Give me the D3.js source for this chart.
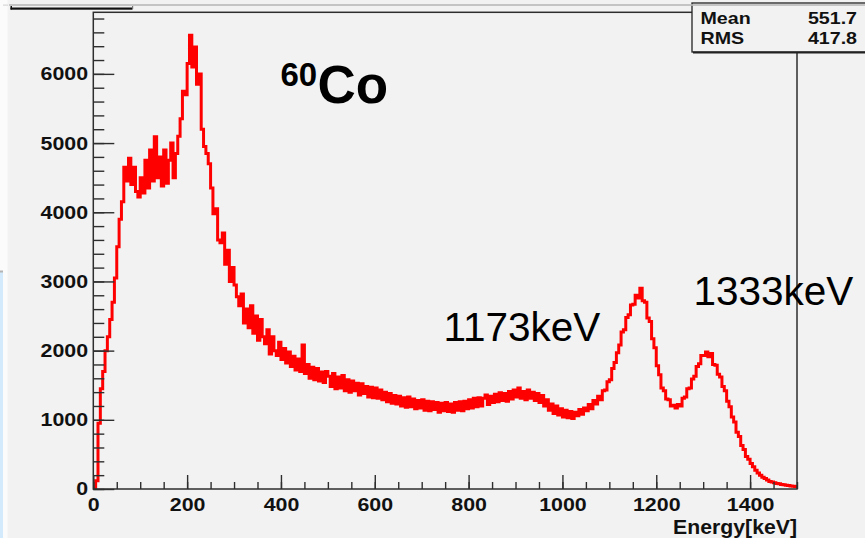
<!DOCTYPE html>
<html>
<head>
<meta charset="utf-8">
<script src="https://cdn.jsdelivr.net/npm/d3@7"></script>
<style>
  html, body { margin: 0; padding: 0; background: #f2f2f2; }
  svg { display: block; }
</style>
</head>
<body>
<svg id="chart" width="865" height="538"></svg>
<script>
// 60Co gamma spectrum, 5 keV bins from 0 to 1500 keV (counts per bin)
const binWidth = 5;
const counts = [
  0, 120, 950, 1450, 1700, 2000, 2200, 2450, 2700, 3050,          // 0-50
  3500, 3900, 4150, 4650, 4450, 4780, 4400, 4650, 4300, 4220,     // 50-100
  4500, 4280, 4750, 4350, 4900, 4450, 5090, 4500, 4800, 4380,     // 100-150
  4900, 4420, 4750, 5000, 4500, 4850, 5100, 5350, 5750, 5700,     // 150-200
  6150, 6560, 6100, 6390, 5850, 6000, 5200, 4950, 4850, 4700,     // 200-250
  4350, 3980, 4050, 3600, 3560, 3700, 3250, 3450, 3000, 3200,     // 250-300
  2950, 2780, 2650, 2820, 2400, 2600, 2330, 2650, 2250, 2500,     // 300-350
  2150, 2450, 2200, 2100, 2300, 1950, 2200, 2000, 1930, 2120,     // 350-400
  1870, 2030, 1820, 1980, 1770, 1920, 1720, 1880, 1700, 2080,     // 400-450
  1670, 1800, 1600, 1760, 1580, 1740, 1560, 1690, 1540, 1700,     // 450-500
  1630, 1480, 1670, 1450, 1620, 1460, 1640, 1420, 1580, 1400,     // 500-550
  1560, 1420, 1530, 1360, 1520, 1380, 1480, 1330, 1470, 1320,     // 550-600
  1460, 1310, 1430, 1290, 1400, 1260, 1380, 1240, 1350, 1230,     // 600-650
  1340, 1200, 1320, 1180, 1330, 1190, 1300, 1160, 1280, 1170,     // 650-700
  1290, 1140, 1270, 1130, 1260, 1150, 1250, 1110, 1240, 1130,     // 700-750
  1250, 1120, 1230, 1110, 1250, 1140, 1260, 1130, 1270, 1160,     // 750-800
  1290, 1170, 1310, 1190, 1320, 1200, 1310, 1360, 1220, 1340,     // 800-850
  1250, 1370, 1260, 1390, 1280, 1380, 1270, 1410, 1300, 1430,     // 850-900
  1330, 1460, 1310, 1410, 1290, 1430, 1310, 1400, 1280, 1380,     // 900-950
  1250, 1350, 1200, 1290, 1140, 1230, 1090, 1200, 1070, 1160,     // 950-1000
  1040, 1140, 1030, 1120, 1020, 1110, 1060, 1150, 1080, 1170,     // 1000-1050
  1130, 1220, 1160, 1280, 1230, 1340, 1290, 1420, 1430, 1550,     // 1050-1100
  1580, 1740, 1830, 1970, 2080, 2270, 2300, 2480, 2520, 2660,     // 1100-1150
  2670, 2800, 2760, 2900, 2720, 2700, 2470, 2420, 2170, 2040,     // 1150-1200
  1780, 1650, 1460, 1420, 1300, 1290, 1200, 1210, 1170, 1220,     // 1200-1250
  1200, 1310, 1330, 1450, 1460, 1590, 1630, 1770, 1810, 1930,     // 1250-1300
  1930, 1980, 1910, 1960, 1800, 1790, 1660, 1620, 1480, 1420,     // 1300-1350
  1270, 1190, 1040, 970, 820, 760, 630, 570, 470, 430,            // 1350-1400
  370, 320, 270, 230, 200, 170, 150, 130, 110, 100,               // 1400-1450
  90, 80, 75, 65, 60, 55, 50, 45, 40, 35                          // 1450-1500
];
const xTickValues = [0, 200, 400, 600, 800, 1000, 1200, 1400];
const yTickValues = [0, 1000, 2000, 3000, 4000, 5000, 6000];
const statNames = ["Mean", "RMS"];
const statValues = ["551.7", "417.8"];
const peakLabels = [
  { text: "1173keV", x: 443.5, y: 341 },
  { text: "1333keV", x: 693.5, y: 305 }
];
const xTitle = "Energy[keV]";

const svg = d3.select("#chart");
const W = 865, H = 538;
const frame = { left: 93.3, right: 797, top: 12.3, bottom: 489 };

const x = d3.scaleLinear().domain([0, 1500]).range([frame.left, frame.right]);
const y = d3.scaleLinear().domain([0, 6890]).range([frame.bottom, frame.top]);

const fontFamily = "'Liberation Sans', Arial, Helvetica, sans-serif";
const axisColor = "#2e2e2e";

// page background and window edge
svg.append("rect").attr("width", W).attr("height", H).attr("fill", "#f2f2f2");
svg.append("rect").attr("x", 0).attr("y", 0).attr("width", 7.5).attr("height", H).attr("fill", "#fbfbfb");
svg.append("rect").attr("x", 0).attr("y", 272).attr("width", 3).attr("height", H - 272).attr("fill", "#d2eafb");
svg.append("rect").attr("x", 0).attr("y", 270.5).attr("width", 3).attr("height", 2).attr("fill", "#b4b4b4");

// histogram (step line)
const pts = counts.map((c, i) => [i * binWidth, c]);
pts.push([counts.length * binWidth, counts[counts.length - 1]]);

svg.append("clipPath").attr("id", "plotClip")
  .append("rect")
  .attr("x", frame.left).attr("y", frame.top)
  .attr("width", frame.right - frame.left).attr("height", frame.bottom - frame.top);

const line = d3.line()
  .x(d => x(d[0]))
  .y(d => y(d[1]))
  .curve(d3.curveStepAfter);

svg.append("path")
  .attr("clip-path", "url(#plotClip)")
  .attr("d", line(pts))
  .attr("fill", "none")
  .attr("stroke", "#ff0000")
  .attr("stroke-width", 3)
  .attr("stroke-linejoin", "miter");

// frame
svg.append("rect")
  .attr("x", frame.left).attr("y", frame.top)
  .attr("width", frame.right - frame.left).attr("height", frame.bottom - frame.top)
  .attr("fill", "none").attr("stroke", axisColor).attr("stroke-width", 1.5);

// bold, slightly widened label text
function styleLabels(sel, size, sx) {
  sel.attr("fill", "#111")
    .attr("transform", `scale(${sx},1)`)
    .style("font-family", fontFamily)
    .style("font-weight", "bold")
    .style("font-size", size + "px");
}

// x axis: minor ticks every 50 keV, major every 200 keV
svg.append("g")
  .attr("transform", `translate(0,${frame.bottom})`)
  .call(d3.axisBottom(x).tickValues(d3.range(0, 1501, 50)).tickSize(-7).tickFormat(""))
  .call(g => g.select(".domain").remove())
  .call(g => g.selectAll("line").attr("stroke", axisColor).attr("stroke-width", 1.4));

svg.append("g")
  .attr("transform", `translate(0,${frame.bottom})`)
  .call(d3.axisBottom(x).tickValues(xTickValues).tickSize(-14).tickPadding(8.5).tickFormat(d3.format("d")))
  .call(g => g.select(".domain").remove())
  .call(g => g.selectAll("line").attr("stroke", axisColor).attr("stroke-width", 1.4))
  .call(g => styleLabels(g.selectAll("text"), 18.6, 1.15));

// y axis: minor ticks every 200, major every 1000
svg.append("g")
  .attr("transform", `translate(${frame.left},0)`)
  .call(d3.axisLeft(y).tickValues(d3.range(0, 6801, 200)).tickSize(-11).tickFormat(""))
  .call(g => g.select(".domain").remove())
  .call(g => g.selectAll("line").attr("stroke", axisColor).attr("stroke-width", 1.4));

svg.append("g")
  .attr("transform", `translate(${frame.left},0)`)
  .call(d3.axisLeft(y).tickValues(yTickValues).tickSize(-21).tickPadding(4.5).tickFormat(d3.format("d")))
  .call(g => g.select(".domain").remove())
  .call(g => g.selectAll("line").attr("stroke", axisColor).attr("stroke-width", 1.4))
  .call(g => styleLabels(g.selectAll("text"), 18.6, 1.15));

// x axis title
svg.append("g")
  .attr("transform", "translate(797,534)")
  .append("text")
  .attr("text-anchor", "end")
  .call(t => styleLabels(t, 19.5, 1.09))
  .text(xTitle);

// isotope label
const iso = svg.append("text")
  .attr("fill", "#000")
  .style("font-family", fontFamily).style("font-weight", "bold");
iso.append("tspan").attr("x", 280.5).attr("y", 86).style("font-size", "33px").text("60");
iso.append("tspan").attr("x", 317.6).attr("y", 103.3).style("font-size", "53px").text("Co");

// stats box
svg.append("rect")
  .attr("x", 692).attr("y", 3).attr("width", 190).attr("height", 49)
  .attr("fill", "#f2f2f2").attr("stroke", "#222").attr("stroke-width", 1.3);
svg.append("line")
  .attr("x1", 693).attr("x2", 865).attr("y1", 52.5).attr("y2", 52.5)
  .attr("stroke", "#222").attr("stroke-width", 2.2);

const statRows = [23.5, 44];
svg.append("g").selectAll("g")
  .data(statNames).join("g")
  .attr("transform", (d, i) => `translate(700.5,${statRows[i]})`)
  .append("text")
  .call(t => styleLabels(t, 16.5, 1.19))
  .text(d => d);
svg.append("g").selectAll("g")
  .data(statValues).join("g")
  .attr("transform", (d, i) => `translate(857,${statRows[i]})`)
  .append("text")
  .attr("text-anchor", "end")
  .call(t => styleLabels(t, 16.5, 1.19))
  .text(d => d);

// top window edge lines
svg.append("rect").attr("x", 9).attr("y", 4.2).attr("width", W - 9).attr("height", 1.6).attr("fill", "#b9b9b9");
svg.append("rect").attr("x", 3).attr("y", 4.6).attr("width", 5).attr("height", 1).attr("fill", "#cfcfcf");
svg.append("rect").attr("x", 10.5).attr("y", 7.5).attr("width", 122).attr("height", 2.2).attr("fill", "#111");
svg.append("rect").attr("x", 10.5).attr("y", 6).attr("width", 1.5).attr("height", 3.5).attr("fill", "#111");
svg.append("rect").attr("x", 132).attr("y", 6).attr("width", 1.2).attr("height", 3).attr("fill", "#777");

// peak labels
svg.append("g").selectAll("text")
  .data(peakLabels).join("text")
  .attr("x", d => d.x).attr("y", d => d.y)
  .attr("fill", "#000")
  .style("font-family", fontFamily)
  .style("font-size", "40.5px")
  .text(d => d.text);
</script>
</body>
</html>
